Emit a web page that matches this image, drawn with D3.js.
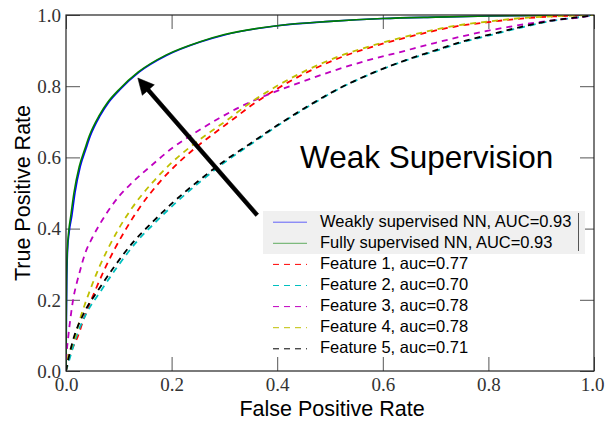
<!DOCTYPE html>
<html><head><meta charset="utf-8">
<script src="https://cdnjs.cloudflare.com/ajax/libs/d3/7.8.5/d3.min.js"></script>
<style>body{margin:0;background:#fff}svg{display:block}</style>
</head><body>
<script>
// ---------- data ----------
const xTicks = [0, 0.2, 0.4, 0.6, 0.8, 1.0];
const yTicks = [0, 0.2, 0.4, 0.6, 0.8, 1.0];
const seriesNames = ["Weakly supervised NN, AUC=0.93","Fully supervised NN, AUC=0.93","Feature 1, auc=0.77","Feature 2, auc=0.70","Feature 3, auc=0.78","Feature 4, auc=0.78","Feature 5, auc=0.71"];
const seriesColors = ["#0000ff","#008000","#ff0000","#00bfbf","#bf00bf","#bfbf00","#000000"];
const seriesDashed = [false,false,true,true,true,true,true];

const weakFPR = [0,0.0008,0.0015,0.003,0.006,0.011,0.017,0.027,0.038,0.046,0.065,0.081,0.102,0.139,0.19,0.254,0.3,0.4,0.5,0.6,0.7,0.8,0.9,1];
const weakTPR = [0,0.15,0.25,0.34,0.39,0.435,0.5,0.574,0.625,0.66,0.718,0.755,0.79,0.84,0.886,0.924,0.944,0.97,0.982,0.99,0.994,0.997,0.999,1];
const fullFPR = [0,0.0005,0.001,0.0025,0.005,0.009,0.015,0.025,0.036,0.044,0.063,0.079,0.1,0.137,0.19,0.254,0.3,0.4,0.5,0.6,0.7,0.8,0.9,1];
const fullTPR = [0,0.15,0.25,0.34,0.39,0.435,0.5,0.574,0.625,0.66,0.718,0.755,0.79,0.84,0.888,0.925,0.945,0.97,0.982,0.99,0.994,0.997,0.999,1];
const f1FPR = [0,0.005,0.014,0.022,0.034,0.055,0.076,0.093,0.114,0.14,0.177,0.213,0.246,0.281,0.319,0.35,0.4,0.462,0.524,0.585,0.648,0.705,0.735,0.8,0.862,0.923,1];
const f1TPR = [0,0.035,0.07,0.096,0.148,0.225,0.295,0.345,0.4,0.46,0.53,0.585,0.628,0.668,0.71,0.745,0.793,0.843,0.883,0.913,0.938,0.958,0.967,0.98,0.99,0.996,1];
const f2FPR = [0,0.006,0.018,0.038,0.066,0.096,0.132,0.171,0.206,0.255,0.304,0.353,0.402,0.458,0.52,0.583,0.645,0.702,0.75,0.8,0.86,0.923,0.973,1];
const f2TPR = [0,0.03,0.09,0.16,0.225,0.29,0.36,0.42,0.47,0.533,0.59,0.64,0.69,0.742,0.795,0.838,0.873,0.9,0.923,0.942,0.964,0.984,0.994,1];
const f3FPR = [0,0.001,0.004,0.008,0.014,0.02,0.027,0.035,0.05,0.063,0.08,0.1,0.126,0.164,0.2,0.24,0.29,0.33,0.38,0.443,0.506,0.57,0.633,0.7,0.75,0.8,0.86,0.922,0.986,1];
const f3TPR = [0,0.04,0.092,0.143,0.205,0.245,0.284,0.325,0.375,0.41,0.45,0.49,0.53,0.58,0.625,0.665,0.71,0.742,0.775,0.81,0.843,0.872,0.896,0.922,0.94,0.956,0.972,0.985,0.996,1];
const f4FPR = [0,0.004,0.011,0.017,0.027,0.045,0.064,0.08,0.1,0.126,0.164,0.2,0.234,0.27,0.31,0.341,0.393,0.456,0.519,0.582,0.645,0.702,0.733,0.797,0.86,0.922,1];
const f4TPR = [0,0.04,0.07,0.096,0.148,0.225,0.295,0.345,0.4,0.46,0.53,0.585,0.628,0.668,0.71,0.745,0.795,0.845,0.885,0.915,0.94,0.96,0.969,0.981,0.991,0.996,1];
const f5FPR = [0,0.004,0.014,0.033,0.06,0.09,0.126,0.165,0.2,0.25,0.3,0.35,0.4,0.456,0.519,0.582,0.645,0.702,0.75,0.8,0.86,0.923,0.973,1];
const f5TPR = [0,0.03,0.09,0.16,0.225,0.29,0.36,0.42,0.47,0.533,0.59,0.64,0.69,0.742,0.795,0.838,0.874,0.902,0.925,0.944,0.966,0.985,0.994,1];
const seriesX = [weakFPR, fullFPR, f1FPR, f2FPR, f3FPR, f4FPR, f5FPR];
const seriesY = [weakTPR, fullTPR, f1TPR, f2TPR, f3TPR, f4TPR, f5TPR];

const annotationText = "Weak Supervision";
const arrowTip = [0.136, 0.823];
const arrowTail = [0.362, 0.438];
const xLabel = "False Positive Rate";
const yLabel = "True Positive Rate";

// ---------- layout ----------
const W = 605, H = 421;
const L = 66, R = 594, T = 15, B = 371;
const svg = d3.select("body").append("svg").attr("width", W).attr("height", H);
const x = d3.scaleLinear().domain([0,1]).range([L,R]);
const y = d3.scaleLinear().domain([0,1]).range([B,T]);

svg.append("clipPath").attr("id","clip").append("rect")
  .attr("x",L).attr("y",T).attr("width",R-L).attr("height",B-T);

// ticks (inward, all four sides)
const tickLen = 14;
const tickCol = "#555";
const tickFont = 19;
svg.append("g").attr("transform",`translate(0,${B})`)
  .call(d3.axisBottom(x).tickValues(xTicks).tickSize(-tickLen).tickFormat(d3.format(".1f")))
  .call(g=>{g.select(".domain").remove(); g.selectAll("line").attr("stroke",tickCol);
    g.selectAll("text").attr("font-family","'Liberation Serif', serif").attr("font-size",tickFont).attr("fill","#333").attr("dy","0").attr("y",20)
      .attr("dx",(d)=> d===1 ? -2 : 0);});
svg.append("g").attr("transform",`translate(0,${T})`)
  .call(d3.axisTop(x).tickValues(xTicks).tickSize(-tickLen).tickFormat(""))
  .call(g=>{g.select(".domain").remove(); g.selectAll("line").attr("stroke",tickCol);});
svg.append("g").attr("transform",`translate(${L},0)`)
  .call(d3.axisLeft(y).tickValues(yTicks).tickSize(-tickLen).tickFormat(d3.format(".1f")))
  .call(g=>{g.select(".domain").remove(); g.selectAll("line").attr("stroke",tickCol);
    g.selectAll("text").attr("font-family","'Liberation Serif', serif").attr("font-size",tickFont).attr("fill","#333").attr("x",-5).attr("dy","0.33em");});
svg.append("g").attr("transform",`translate(${R},0)`)
  .call(d3.axisRight(y).tickValues(yTicks).tickSize(-tickLen).tickFormat(""))
  .call(g=>{g.select(".domain").remove(); g.selectAll("line").attr("stroke",tickCol);});

// curves
const line = d3.line().x(d=>x(d[0])).y(d=>y(d[1])).curve(d3.curveMonotoneX);
const curves = svg.append("g").attr("clip-path","url(#clip)");
seriesNames.forEach((n,i)=>{
  const pts = seriesX[i].map((v,j)=>[v, seriesY[i][j]]);
  curves.append("path").attr("d", line(pts)).attr("fill","none")
    .attr("stroke", seriesColors[i]).attr("stroke-width", seriesDashed[i]?1.8:1.6)
    .attr("stroke-dasharray", seriesDashed[i]?"6,5":null);
});

// frame
svg.append("rect").attr("x",L).attr("y",T).attr("width",R-L).attr("height",B-T)
  .attr("fill","none").attr("stroke","#222").attr("stroke-width",1.2);

// annotation text
svg.append("text").attr("x",300).attr("y",168).text(annotationText)
  .attr("font-family","'Liberation Sans', Arial, sans-serif").attr("font-size",31.5).attr("fill","#000");

// arrow
(function(){
  const tx=x(arrowTip[0]), ty=y(arrowTip[1]), sx=x(arrowTail[0]), sy=y(arrowTail[1]);
  const dx=tx-sx, dy=ty-sy, len=Math.hypot(dx,dy), ux=dx/len, uy=dy/len, px=-uy, py=ux;
  const hl=16, hw=8, lw=2;
  const bx=tx-ux*hl, by=ty-uy*hl;
  const pts=[[sx+px*lw,sy+py*lw],[bx+px*lw,by+py*lw],[bx+px*hw,by+py*hw],[tx,ty],[bx-px*hw,by-py*hw],[bx-px*lw,by-py*lw],[sx-px*lw,sy-py*lw]];
  svg.append("polygon").attr("points",pts.map(p=>p.join(",")).join(" ")).attr("fill","#000").attr("stroke","#000").attr("stroke-width",0.5);
})();

// legend
const lg = svg.append("g");
lg.append("rect").attr("x",263).attr("y",211).attr("width",322).attr("height",43).attr("fill","#f0f0f0");
lg.append("line").attr("x1",578.5).attr("x2",578.5).attr("y1",213).attr("y2",251).attr("stroke","#555").attr("stroke-width",1);
seriesNames.forEach((n,i)=>{
  const by = 226.7 + i*21.1;
  lg.append("line").attr("x1",273).attr("x2",307).attr("y1",by-4.5).attr("y2",by-4.5)
    .attr("stroke",seriesColors[i]).attr("stroke-width",1).attr("stroke-opacity",seriesDashed[i]?1:0.6)
    .attr("stroke-dasharray",seriesDashed[i]?"6,5":null);
  lg.append("text").attr("x",320).attr("y",by).text(n)
    .attr("font-family","'Liberation Sans', Arial, sans-serif").attr("font-size",16.5).attr("fill","#000");
});

// axis labels
svg.append("text").attr("x",332).attr("y",416).attr("text-anchor","middle").text(xLabel)
  .attr("font-family","'Liberation Sans', Arial, sans-serif").attr("font-size",21.5).attr("fill","#000");
svg.append("text").attr("transform","translate(30,193) rotate(-90)").attr("text-anchor","middle").text(yLabel)
  .attr("font-family","'Liberation Sans', Arial, sans-serif").attr("font-size",21.5).attr("fill","#000");
</script>
</body></html>
